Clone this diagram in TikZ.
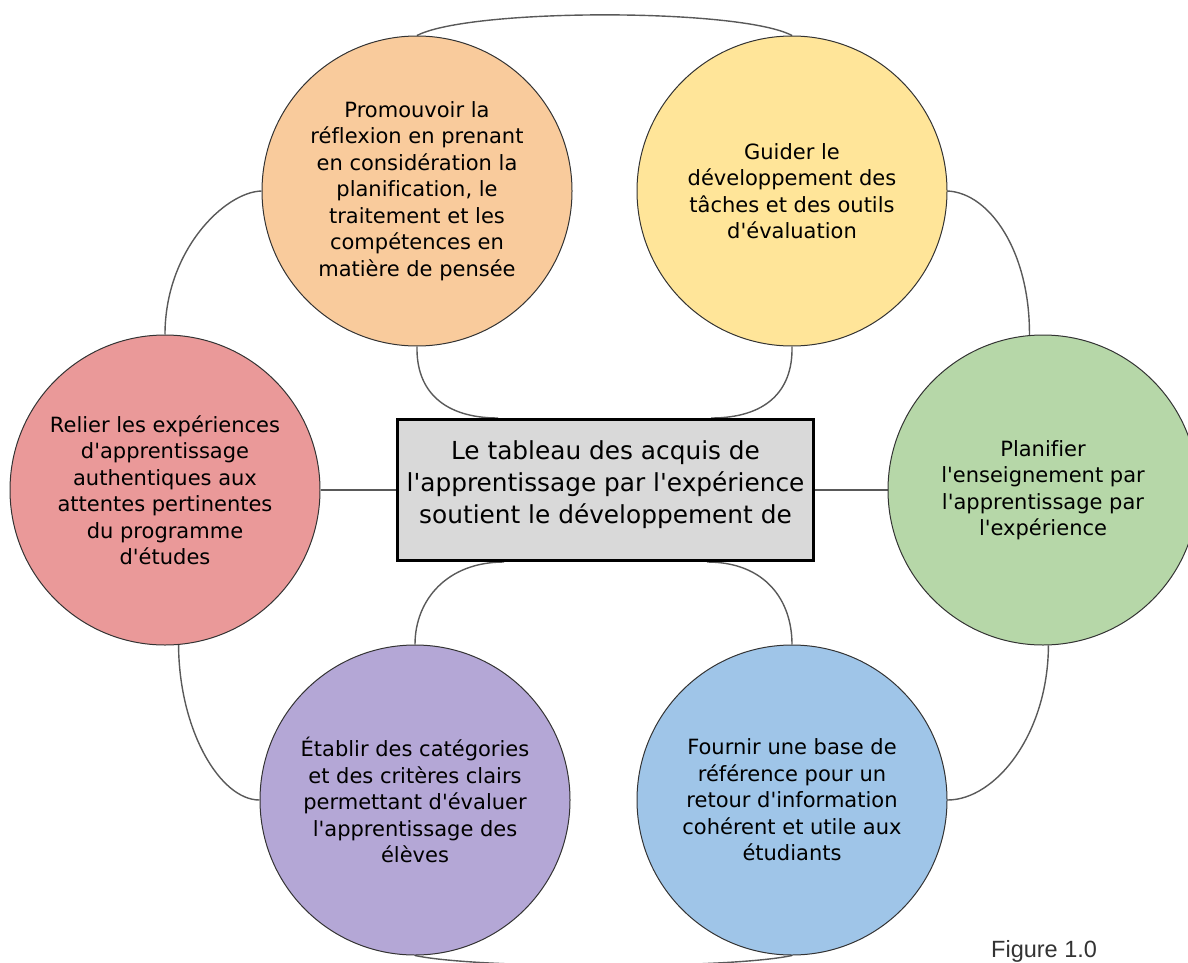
\documentclass[tikz,border=0pt]{standalone}
\usepackage{fontspec}
\newfontfamily\dv{DejaVu Sans}[Ligatures=CommonOff]
\newfontfamily\figfont{Liberation Sans}
\definecolor{cOrange}{HTML}{F9CB9C}
\definecolor{cYellow}{HTML}{FFE599}
\definecolor{cRed}{HTML}{EA9999}
\definecolor{cGreen}{HTML}{B6D7A8}
\definecolor{cBlue}{HTML}{9FC5E8}
\definecolor{cPurple}{HTML}{B4A7D6}
\definecolor{cBox}{HTML}{D9D9D9}
\pgfdeclarelayer{background}
\pgfsetlayers{background,main}
\begin{document}
\begin{tikzpicture}[x=1pt,y=-1pt,
  bubble/.style={circle, draw=black!80, line width=1pt, minimum size=310pt,
    inner sep=0pt, align=center, text=black,
    font=\dv\fontsize{21}{26.5}\selectfont},
  link/.style={draw=black!65, line width=1.4pt},
  hub/.style={draw=black, line width=3pt, fill=cBox, minimum width=416pt,
    minimum height=141pt, inner sep=0pt}]
\useasboundingbox (0,0) rectangle (1188,963);
\clip (0,0) rectangle (1188,963);

\node[bubble, fill=cOrange] (orange) at (417,191) {Promouvoir la\\réflexion en prenant\\en considération la\\planification, le\\traitement et les\\compétences en\\matière de pensée};
\node[bubble, fill=cYellow] (yellow) at (792,191) {Guider le\\développement des\\tâches et des outils\\d'évaluation};
\node[bubble, fill=cRed] (red) at (165,490) {Relier les expériences\\d'apprentissage\\authentiques aux\\attentes pertinentes\\du programme\\d'études};
\node[bubble, fill=cGreen] (green) at (1043,490) {Planifier\\l'enseignement par\\l'apprentissage par\\l'expérience};
\node[bubble, fill=cPurple] (purple) at (415,800) {Établir des catégories\\et des critères clairs\\permettant d'évaluer\\l'apprentissage des\\élèves};
\node[bubble, fill=cBlue] (blue) at (792,800) {Fournir une base de\\référence pour un\\retour d'information\\cohérent et utile aux\\étudiants};

\node[hub] (box) at (605.5,490) {};
\node[align=center, inner sep=0pt, text=black, font=\dv\fontsize{24.8}{32}\selectfont] (boxtext) at (605.5,485) {Le tableau des acquis de\\l'apprentissage par l'expérience\\soutient le développement de};

\coordinate (bt1) at ([xshift=102pt]box.north west);
\coordinate (bt2) at ([xshift=-104pt]box.north east);
\coordinate (bb1) at ([xshift=108pt]box.south west);
\coordinate (bb2) at ([xshift=-108pt]box.south east);

\begin{pgfonlayer}{background}
\draw[link] (orange.north) .. controls (470,8) and (740,8) .. (yellow.north);
\draw[link] (purple.south) .. controls (478,969) and (729,969) .. (blue.south);
\draw[link] (orange.west) .. controls (225,192) and (165,250) .. (red.north);
\draw[link] (yellow.east) .. controls (990,193) and (1030,252) .. (green.95);
\draw[link] (red.-85) .. controls (179,730) and (220,800) .. (purple.west);
\draw[link] (green.-88) .. controls (1048,735) and (995,800) .. (blue.east);
\draw[link] (orange.south) .. controls (416,392) and (445,418) .. (bt1);
\draw[link] (yellow.south) .. controls (793,392) and (765,418) .. (bt2);
\draw[link] (bb1) .. controls (447,562) and (415,600) .. (purple.north);
\draw[link] (bb2) .. controls (765,562) and (792,600) .. (blue.north);
\draw[link] (red.east) -- (box.west);
\draw[link] (box.east) -- (green.west);
\end{pgfonlayer}

\node[anchor=base west, inner sep=0pt, text=black!80, font=\figfont\fontsize{23.5}{28}\selectfont] (fig) at (991,957) {Figure 1.0};
\end{tikzpicture}
\end{document}
